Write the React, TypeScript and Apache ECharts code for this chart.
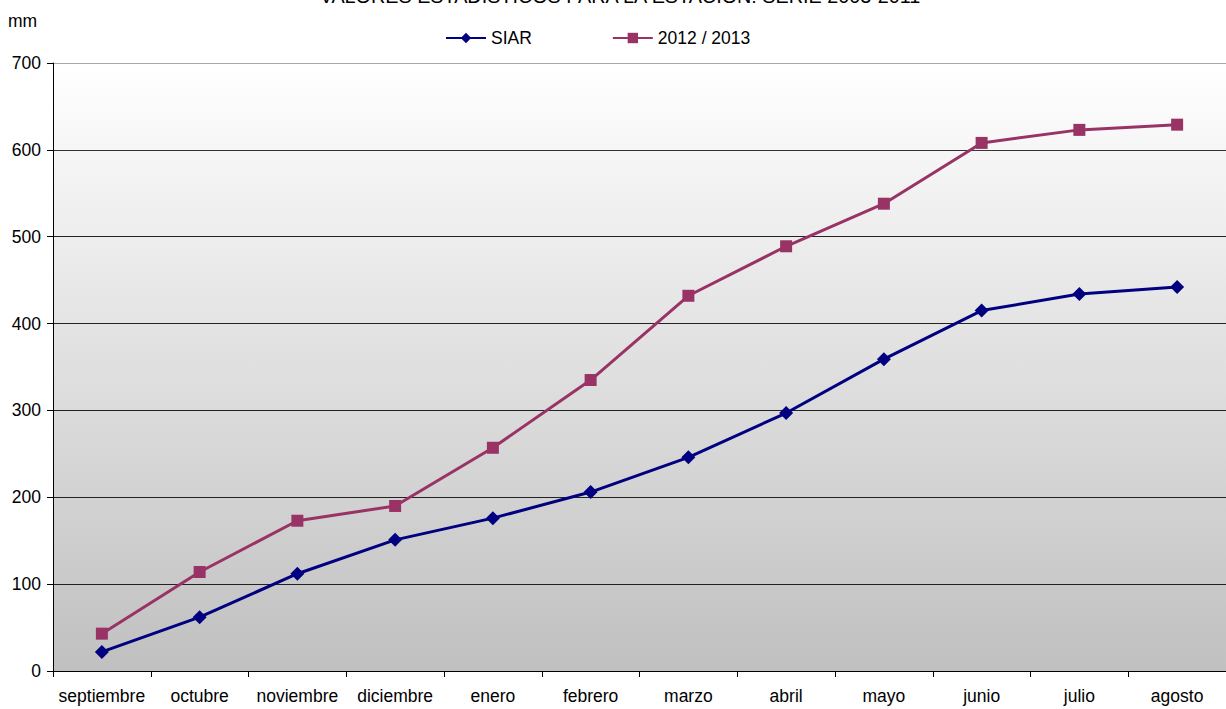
import React, { useEffect, useRef } from "react";
import * as echarts from "echarts";

const title = "VALORES ESTADÍSTICOS PARA LA ESTACIÓN: SERIE 2003-2011";
const categories = ["septiembre", "octubre", "noviembre", "diciembre", "enero", "febrero", "marzo", "abril", "mayo", "junio", "julio", "agosto"];
const siar = [22, 62, 112, 151, 176, 206, 246, 297, 359, 415, 434, 442];
const campaign = [43, 114, 173, 190, 257, 335, 432, 489, 538, 608, 623, 629];
const seriesNames = ["SIAR", "2012 / 2013"];

export default function App() {
  const ref = useRef<HTMLDivElement>(null);
  useEffect(() => {
    const chart = echarts.init(ref.current!, null, { renderer: "svg" });
    const font = "'Liberation Sans', Arial, sans-serif";
    const fs = 17.5;
    chart.setOption({
      animation: false,
      textStyle: { fontFamily: font },
      title: {
        text: title,
        left: 620,
        textAlign: "center",
        top: -14,
        padding: 0,
        textStyle: { fontSize: 19.8, fontWeight: "normal", color: "#000", fontFamily: font },
      },
      graphic: [
        { type: "text", left: 8, top: 12, style: { text: "mm", fontSize: fs, fill: "#000", fontFamily: font } },
      ],
      legend: {
        top: 29,
        left: 445,
        padding: 0,
        itemGap: 80,
        itemWidth: 40,
        itemHeight: 13,
        textStyle: { fontSize: fs, color: "#000", fontFamily: font },
        data: seriesNames,
      },
      grid: {
        left: 53,
        right: 0,
        top: 63,
        bottom: 38,
        show: true,
        borderWidth: 0,
        backgroundColor: new echarts.graphic.LinearGradient(0, 0, 0, 1, [
          { offset: 0, color: "#ffffff" },
          { offset: 1, color: "#c0c0c0" },
        ]),
      },
      xAxis: {
        type: "category",
        data: categories,
        boundaryGap: true,
        axisLine: { lineStyle: { color: "#000", width: 1 } },
        axisTick: { show: true, length: 6, interval: 0, lineStyle: { color: "#000" } },
        axisLabel: { color: "#000", fontSize: fs, margin: 16, interval: 0, fontFamily: font },
      },
      yAxis: {
        type: "value",
        min: 0,
        max: 700,
        interval: 100,
        axisLine: { show: true, lineStyle: { color: "#000", width: 1 } },
        axisTick: { show: true, length: 6, lineStyle: { color: "#000" } },
        axisLabel: { color: "#000", fontSize: fs, margin: 12, fontFamily: font },
        splitLine: {
          show: true,
          lineStyle: { color: ["#000", "#222", "#222", "#222", "#222", "#222", "#333", "#a8a8a8"], width: 1 },
        },
      },
      series: [
        {
          name: seriesNames[0],
          type: "line",
          data: siar,
          symbol: "diamond",
          symbolSize: 14,
          lineStyle: { color: "#000080", width: 3 },
          itemStyle: { color: "#000080" },
        },
        {
          name: seriesNames[1],
          type: "line",
          data: campaign,
          symbol: "rect",
          symbolSize: 12,
          lineStyle: { color: "#993366", width: 3 },
          itemStyle: { color: "#993366" },
        },
      ],
    });
    return () => chart.dispose();
  }, []);
  return <div ref={ref} style={{ width: 1226, height: 709, position: "absolute", left: 0, top: 0 }} />;
}
